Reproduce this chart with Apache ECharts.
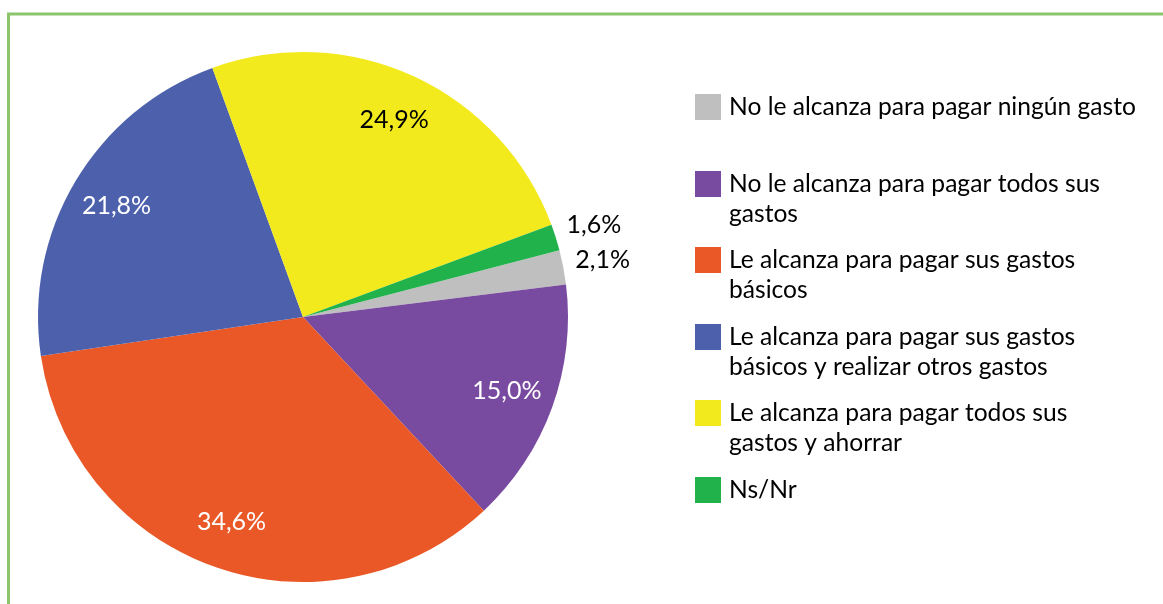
<!DOCTYPE html>
<html>
<head>
<meta charset="utf-8">
<script src="https://cdn.jsdelivr.net/npm/echarts@6/dist/echarts.min.js"></script>
<style>
html,body{margin:0;padding:0;background:#fff;}
#chart{width:1163px;height:604px;}
</style>
</head>
<body>
<div id="chart"></div>
<script>
// ---- data ----
const categories = [
  'No le alcanza para pagar ningún gasto',
  'No le alcanza para pagar todos sus gastos',
  'Le alcanza para pagar sus gastos básicos',
  'Le alcanza para pagar sus gastos básicos y realizar otros gastos',
  'Le alcanza para pagar todos sus gastos y ahorrar',
  'Ns/Nr'
];
const values = [2.1, 15.0, 34.6, 21.8, 24.9, 1.6];
const legendLines = [
  ['No le alcanza para pagar ningún gasto'],
  ['No le alcanza para pagar todos sus', 'gastos'],
  ['Le alcanza para pagar sus gastos', 'básicos'],
  ['Le alcanza para pagar sus gastos', 'básicos y realizar otros gastos'],
  ['Le alcanza para pagar todos sus', 'gastos y ahorrar'],
  ['Ns/Nr']
];
const smallSlices = ['No le alcanza para pagar ningún gasto', 'Ns/Nr'];

// ---- styles ----
const colors = ['#BFBFBF', '#784AA0', '#E95826', '#4C60AC', '#F2EA1D', '#22B24C'];
const labelColors = ['#000', '#fff', '#fff', '#fff', '#000', '#000'];
const FONT = 'Lato';
const legendCenters = [107, 184, 260, 337, 413, 490];

const fmt = v => v.toFixed(1).replace('.', ',') + '%';
const center = [303, 317];

const chart = echarts.init(document.getElementById('chart'), null, {renderer: 'canvas'});

const mainData = categories.map((n, i) => ({
  name: n, value: values[i],
  itemStyle: {color: colors[i]}
}));
const innerLabelData = categories.map((n, i) => ({
  name: n, value: values[i],
  label: {show: smallSlices.indexOf(n) < 0, color: labelColors[i]}
}));
const outerLabelData = categories.map((n, i) => ({
  name: n, value: values[i],
  label: {show: smallSlices.indexOf(n) >= 0, color: labelColors[i]}
}));

const labelBase = {
  position: 'inside',
  fontFamily: FONT,
  fontSize: 25,
  formatter: p => fmt(p.value)
};

const legends = categories.map((n, i) => {
  const lines = legendLines[i];
  const text = lines.length > 1 ? '\n' + lines.join('\n') : lines[0];
  const blockH = lines.length > 1 ? 90 : 30;
  return {
    data: [n],
    orient: 'vertical',
    left: 695,
    top: legendCenters[i] - blockH / 2,
    padding: 0,
    icon: 'rect',
    itemWidth: 26,
    itemHeight: 26,
    selectedMode: false,
    formatter: () => text,
    textStyle: {fontFamily: FONT, fontSize: 24.6, lineHeight: 30, color: '#000', padding: [0, 0, 0, 3]}
  };
});

chart.setOption({
  animation: false,
  backgroundColor: '#fff',
  legend: legends,
  graphic: [{
    type: 'rect',
    shape: {x: 8.5, y: 14, width: 1300, height: 800},
    style: {fill: 'none', stroke: '#8CC66C', lineWidth: 3},
    silent: true
  }],
  series: [
    {
      type: 'pie',
      center: center,
      radius: [0, 265],
      startAngle: 14.6,
      clockwise: true,
      label: {show: false},
      labelLine: {show: false},
      emphasis: {disabled: true},
      itemStyle: {borderWidth: 0},
      data: mainData
    },
    {
      type: 'pie',
      center: center,
      radius: [0, 428],
      startAngle: 14.6,
      clockwise: true,
      silent: true,
      itemStyle: {color: 'rgba(0,0,0,0)'},
      label: labelBase,
      labelLine: {show: false},
      emphasis: {disabled: true},
      data: innerLabelData
    },
    {
      type: 'pie',
      center: center,
      radius: [0, 604],
      startAngle: 14.6,
      clockwise: true,
      silent: true,
      itemStyle: {color: 'rgba(0,0,0,0)'},
      label: labelBase,
      labelLine: {show: false},
      emphasis: {disabled: true},
      data: outerLabelData
    }
  ]
});
</script>
</body>
</html>
